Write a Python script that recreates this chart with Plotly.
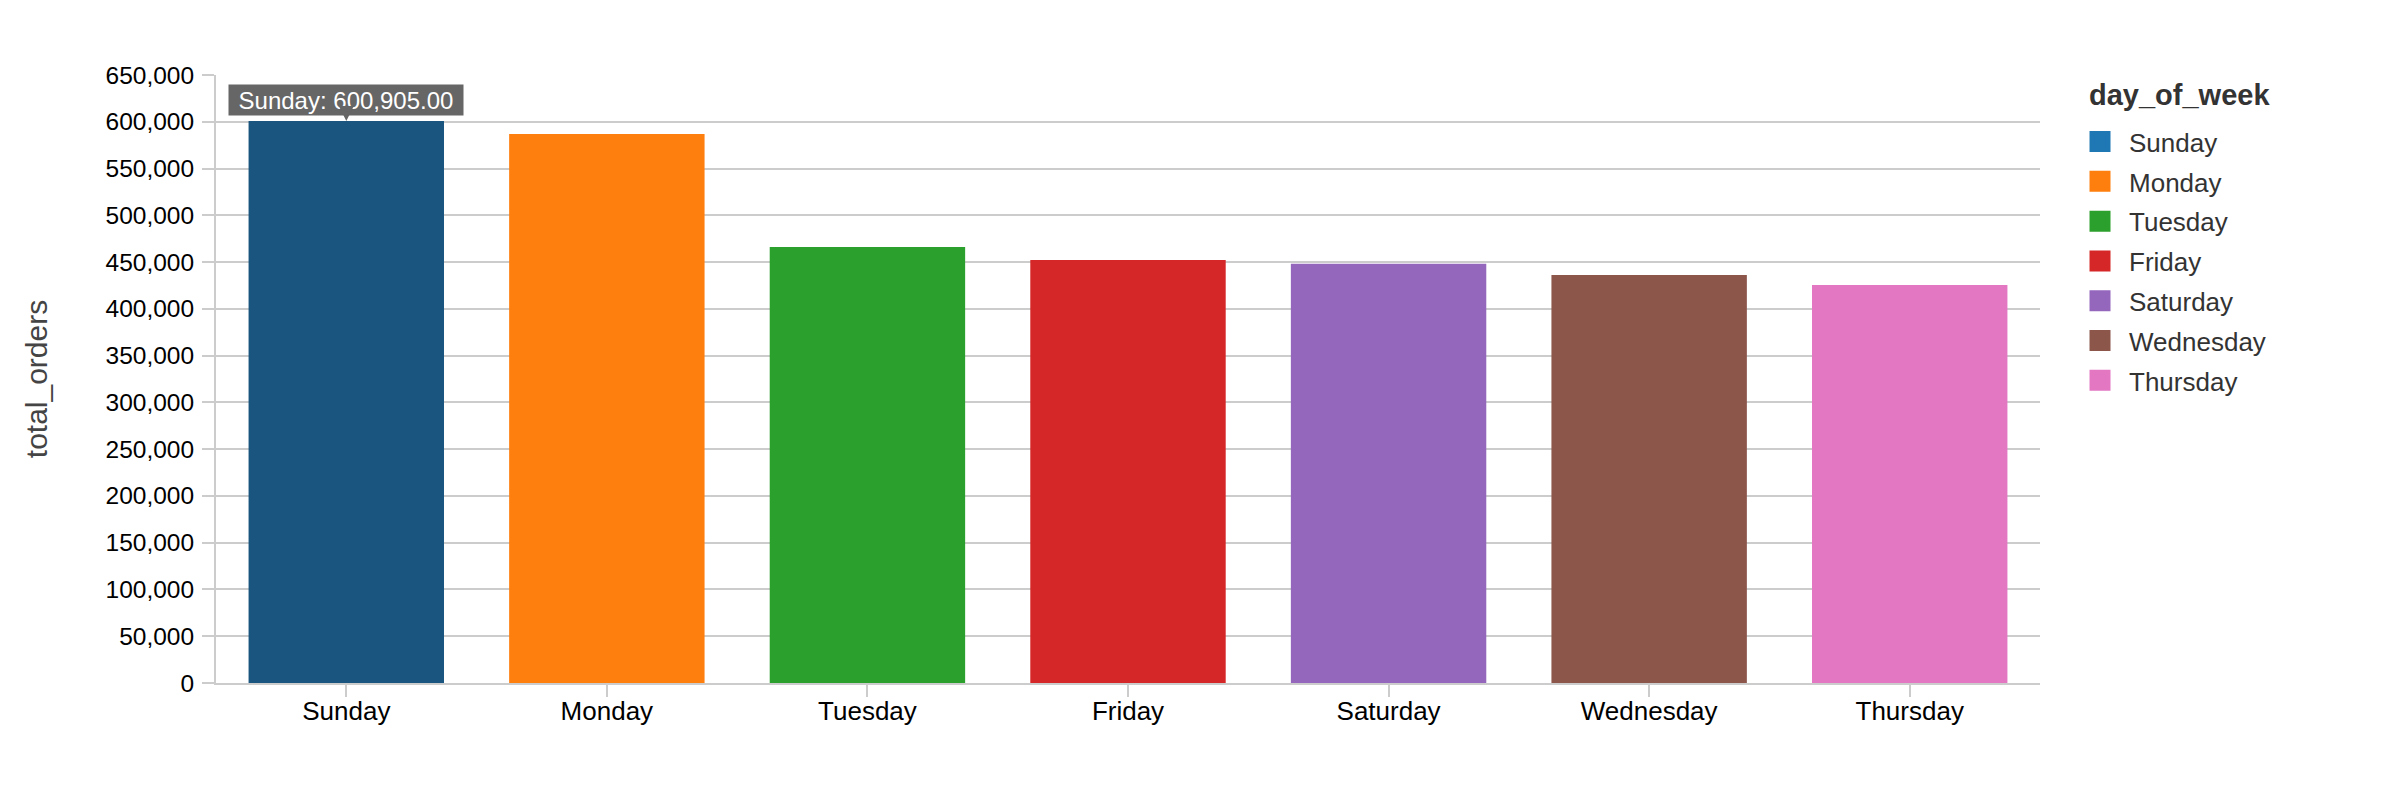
import plotly.graph_objects as go

days = ["Sunday", "Monday", "Tuesday", "Friday", "Saturday", "Wednesday", "Thursday"]
total_orders = [600905, 587000, 466200, 452300, 448100, 436300, 425600]
bar_colors = ["#1a5580", "#ff7f0e", "#2ca02c", "#d62728", "#9467bd", "#8c564b", "#e377c2"]
legend_colors = ["#1f77b4", "#ff7f0e", "#2ca02c", "#d62728", "#9467bd", "#8c564b", "#e377c2"]
y_ticks = list(range(0, 650001, 50000))

FONT = "Liberation Sans, Arial, Helvetica, sans-serif"

fig = go.Figure()
for d, v, c in zip(days, total_orders, bar_colors):
    fig.add_trace(go.Bar(x=[d], y=[v], marker=dict(color=c, line=dict(width=0)),
                         width=0.75, showlegend=False, name=d))
for d, c in zip(days, legend_colors):
    fig.add_trace(go.Scatter(x=[None], y=[None], mode="markers", name=d, legendgroup=d,
                             marker=dict(symbol="square", size=16, color=c,
                                         line=dict(color=c, width=5))))

# tooltip for Sunday
fig.add_annotation(x=days[0], y=total_orders[0], xref="x", yref="y",
                   text=f"{days[0]}: {total_orders[0]:,.2f}",
                   showarrow=True, ax=0, ay=-21, axref="pixel", ayref="pixel",
                   arrowhead=2, arrowsize=1, arrowwidth=3, arrowcolor="#666666",
                   standoff=0, bgcolor="#666666", borderpad=1,
                   width=232, height=28,
                   font=dict(family=FONT, size=24, color="#ffffff"))

# legend title
fig.add_annotation(x=1.0258, y=0.967, xref="paper", yref="paper",
                   xanchor="left", yanchor="middle", showarrow=False,
                   text="<b>day_of_week</b>",
                   font=dict(family=FONT, size=29, color="#333333"))

fig.update_layout(
    width=2374, height=774,
    paper_bgcolor="#ffffff", plot_bgcolor="#ffffff",
    margin=dict(l=208, r=342, t=67, b=99, autoexpand=False),
    barmode="overlay",
    font=dict(family=FONT, size=24, color="#000000"),
    xaxis=dict(categoryorder="array", categoryarray=days, automargin=False,
               showgrid=False, showline=True, linecolor="#cccccc", linewidth=2,
               ticks="outside", ticklen=12, tickwidth=2, tickcolor="#cccccc",
               ticklabelstandoff=-8,
               tickfont=dict(size=26, color="#000000")),
    yaxis=dict(range=[0, 650000], tickvals=y_ticks, tickformat=",d", automargin=False,
               showgrid=True, gridcolor="#cccccc", gridwidth=2,
               showline=True, linecolor="#cccccc", linewidth=2,
               ticks="outside", ticklen=12, tickwidth=2, tickcolor="#cccccc",
               zeroline=False, ticklabelstandoff=3,
               tickfont=dict(size=24.5, color="#000000"),
               title=dict(text="total_orders", font=dict(size=30, color="#444444"),
                          standoff=49)),
    legend=dict(x=1.0170, xanchor="left", y=0.929, yanchor="top",
                font=dict(size=26, color="#333333"),
                itemwidth=48, tracegroupgap=3,
                bgcolor="rgba(0,0,0,0)"),
)

fig.write_html("out.html")
